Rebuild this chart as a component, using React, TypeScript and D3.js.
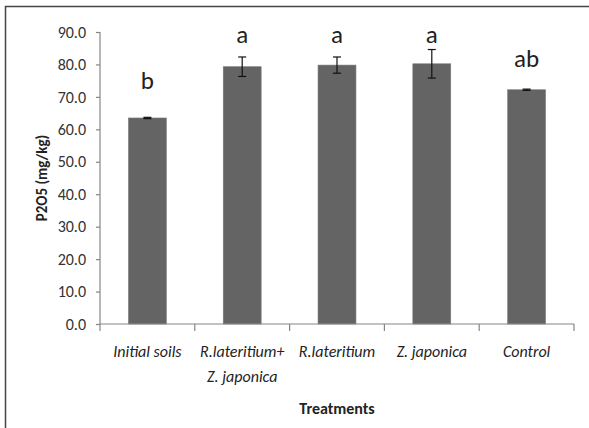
import React, { useRef, useEffect } from "react"
import * as d3 from "d3"

const treatments = ["Initial soils", "R.lateritium+|Z. japonica", "R.lateritium", "Z. japonica", "Control"]
const means = [63.5, 79.3, 79.8, 80.2, 72.2]
const errors = [0.2, 3.0, 2.5, 4.4, 0.2]
const letters = ["b", "a", "a", "a", "ab"]
// height (in mg/kg) where each significance letter sits
const letterLevels = [72.4, 86.6, 86.6, 86.6, 79.3]
const yTicks = [0, 10, 20, 30, 40, 50, 60, 70, 80, 90]

const W = 589
const H = 428
const FONT = "Carlito, Lato, 'Open Sans', sans-serif"

export default function App() {
  const ref = useRef<SVGSVGElement>(null)

  useEffect(() => {
    const svg = d3.select(ref.current)
    svg.selectAll("*").remove()

    const left = 100, right = 574, top = 32, bottom = 324

    // frame (only top and left visible)
    svg.append("path")
      .attr("d", `M5.5,${H} L5.5,6.5 L${W},6.5`)
      .attr("fill", "none")
      .attr("stroke", "#444")
      .attr("stroke-width", 1.5)

    const x = d3.scaleBand().domain(treatments).range([left, right]).padding(0)
    const y = d3.scaleLinear().domain([0, 90]).range([bottom, top])
    const barW = x.bandwidth() * 0.4

    const g = svg.append("g")

    // bars
    g.selectAll("rect.bar")
      .data(treatments)
      .join("rect")
      .attr("class", "bar")
      .attr("x", d => x(d)! + x.bandwidth() / 2 - barW / 2)
      .attr("y", (d, i) => y(means[i]))
      .attr("width", barW)
      .attr("height", (d, i) => y(0) - y(means[i]))
      .attr("fill", "#646464")
      .attr("stroke", "#7a7a7a")
      .attr("stroke-width", 0.6)

    // error bars
    const eb = g.selectAll("g.err").data(treatments).join("g").attr("class", "err")
    eb.each(function (d, i) {
      const cx = x(d)! + x.bandwidth() / 2
      const y1 = y(means[i] + errors[i])
      const y2 = y(means[i] - errors[i])
      const e = d3.select(this)
      e.append("line").attr("x1", cx).attr("x2", cx).attr("y1", y1).attr("y2", y2)
      e.append("line").attr("x1", cx - 4).attr("x2", cx + 4).attr("y1", y1).attr("y2", y1)
      e.append("line").attr("x1", cx - 4).attr("x2", cx + 4).attr("y1", y2).attr("y2", y2)
    })
    eb.selectAll("line").attr("stroke", "#111").attr("stroke-width", 1.2)

    // significance letters
    g.selectAll("text.letter")
      .data(treatments)
      .join("text")
      .attr("class", "letter")
      .attr("x", d => x(d)! + x.bandwidth() / 2)
      .attr("y", (d, i) => y(letterLevels[i]))
      .attr("text-anchor", "middle")
      .attr("font-family", FONT)
      .attr("font-size", 25)
      .attr("fill", "#222")
      .text((d, i) => letters[i])

    // y axis
    const yAxis = svg.append("g")
      .attr("transform", `translate(${left},0)`)
      .call(d3.axisLeft(y).tickValues(yTicks).tickSize(4).tickPadding(10).tickFormat(d3.format(".1f")))
    yAxis.selectAll("path,line").attr("stroke", "#868686").attr("stroke-width", 1.2)
    yAxis.select(".domain").attr("d", `M0,${bottom}V${top}`)
    yAxis.selectAll("text")
      .attr("font-family", FONT)
      .attr("font-size", 16)
      .attr("fill", "#333")

    // x axis line and boundary ticks
    const xg = svg.append("g")
    xg.append("line")
      .attr("x1", left).attr("x2", right).attr("y1", bottom).attr("y2", bottom)
      .attr("stroke", "#868686").attr("stroke-width", 1.2)
    const bounds = treatments.map(d => x(d)!).concat([right])
    xg.selectAll("line.tick")
      .data(bounds)
      .join("line")
      .attr("class", "tick")
      .attr("x1", d => d).attr("x2", d => d)
      .attr("y1", bottom).attr("y2", bottom + 7)
      .attr("stroke", "#868686").attr("stroke-width", 1.2)

    const labels = xg.selectAll("text.xl")
      .data(treatments)
      .join("text")
      .attr("class", "xl")
      .attr("x", d => x(d)! + x.bandwidth() / 2)
      .attr("y", 357)
      .attr("text-anchor", "middle")
      .attr("font-family", FONT)
      .attr("font-style", "italic")
      .attr("font-size", 16)
      .attr("fill", "#222")
    labels.each(function (d) {
      const t = d3.select(this)
      d.split("|").forEach((line, k) => {
        t.append("tspan")
          .attr("x", x(d)! + x.bandwidth() / 2)
          .attr("dy", k === 0 ? 0 : 25)
          .text(line)
      })
    })

    // axis titles
    svg.append("text")
      .attr("x", (left + right) / 2)
      .attr("y", 414)
      .attr("text-anchor", "middle")
      .attr("font-family", FONT)
      .attr("font-weight", "bold")
      .attr("font-size", 16)
      .attr("fill", "#222")
      .text("Treatments")

    svg.append("text")
      .attr("transform", `translate(47,178) rotate(-90)`)
      .attr("text-anchor", "middle")
      .attr("font-family", FONT)
      .attr("font-weight", "bold")
      .attr("font-size", 15)
      .attr("fill", "#222")
      .text("P2O5 (mg/kg)")
  }, [])

  return (
    <svg
      ref={ref}
      width={W}
      height={H}
      style={{ position: "absolute", left: 0, top: 0, background: "#fff" }}
    ></svg>
  )
}
